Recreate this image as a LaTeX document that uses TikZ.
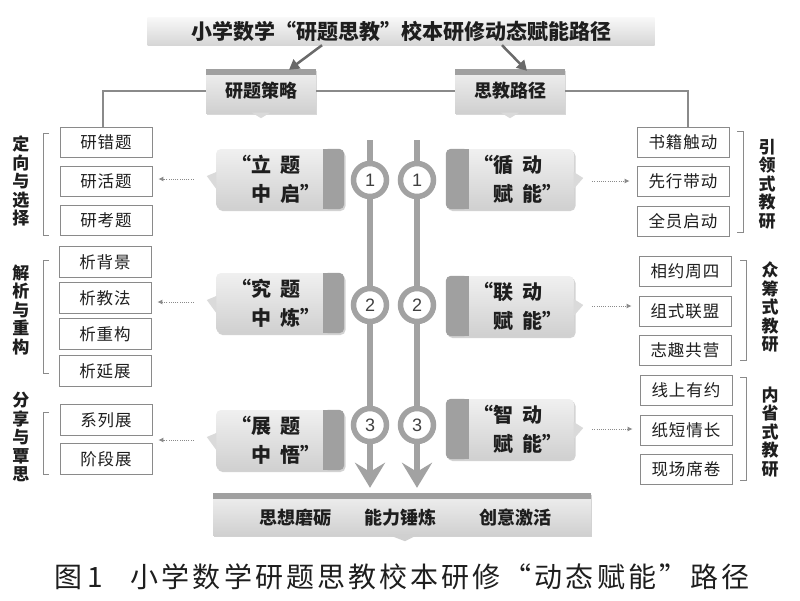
\documentclass[tikz,border=0pt]{standalone}
\usepackage{fontspec}
\setmainfont{Noto Sans CJK SC}
\newfontfamily\numfont{Liberation Sans}
\newfontfamily\capfont{Noto Sans CJK SC}[LetterSpace=11]
\newfontfamily\itemfont{Noto Sans CJK SC}[LetterSpace=6]
\usetikzlibrary{arrows.meta,shadows,calc}
\definecolor{txt}{HTML}{1E1E1E}
\definecolor{linec}{HTML}{8A8A8A}
\definecolor{stripc}{HTML}{A0A0A0}
\definecolor{pipec}{HTML}{A2A2A2}
\definecolor{boxlt}{HTML}{F0F0F0}
\definecolor{boxdk}{HTML}{D0D0D0}
\definecolor{boxmid}{HTML}{DADADA}
\definecolor{arrowc}{HTML}{6A6A6A}
\tikzset{
  titlebar/.style={top color=gray!5, bottom color=gray!32, minimum width=507pt, minimum height=28pt, inner sep=0pt, text=txt, font=\fontsize{21}{21}\selectfont\bfseries},
  header/.style={top color=boxlt, bottom color=boxdk, minimum width=110pt, minimum height=44pt, inner sep=0pt, text=txt, font=\fontsize{18}{18}\selectfont\bfseries, drop shadow={opacity=0.3, shadow xshift=1pt, shadow yshift=-1.5pt}},
  itembox/.style={draw=linec, line width=0.8pt, fill=white, minimum width=92pt, minimum height=30pt, inner sep=0pt, text=txt, font=\fontsize{16.5}{16.5}\itemfont},
  vlabel/.style={align=center, inner sep=0pt, text=txt, font=\fontsize{17}{18.5}\selectfont\bfseries},
  callout/.style={rounded corners=5pt, top color=boxlt, bottom color=boxdk, minimum width=128pt, minimum height=60pt, inner sep=0pt, drop shadow={opacity=0.35, shadow xshift=1.5pt, shadow yshift=-2pt}},
  callouttext/.style={align=center, inner sep=0pt, text=txt, font=\fontsize{20}{29}\selectfont\bfseries},
  branch/.style={draw=linec, line width=1.2pt},
  bracketline/.style={draw=linec, line width=1pt},
  titlearrow/.style={draw=arrowc, line width=2.5pt, -{Triangle[length=10pt,width=11pt]}},
  dotarrow/.style={draw=linec, line width=0.9pt, dash pattern=on 1pt off 1.2pt, -{Latex[length=5pt,width=5pt]}},
  pipe/.style={draw=pipec, line width=6.5pt, -{Stealth[length=25pt,width=30pt,inset=9pt]}},
  numcirc/.style={circle, draw=pipec, line width=5.5pt, fill=white, minimum size=33pt, inner sep=0pt, text=txt!85, font=\fontsize{18}{18}\numfont},
  bottombar/.style={top color=boxlt, bottom color=boxdk, minimum width=378pt, minimum height=42pt, inner sep=0pt, drop shadow={opacity=0.35, shadow xshift=1pt, shadow yshift=-2pt}},
  bartext/.style={inner sep=0pt, text=txt, font=\fontsize{18}{18}\selectfont\bfseries},
  caption/.style={inner sep=0pt, text=txt, font=\fontsize{28}{28}\capfont}
}
\begin{document}
\begin{tikzpicture}[x=1pt,y=-1pt]
\useasboundingbox (0,0) rectangle (800,600);
\fill[white] (0,0) rectangle (800,600);

% ---------- title ----------
\node[titlebar] (title) at (401,31) {小学数学“研题思教”校本研修动态赋能路径};

% ---------- headers ----------
\node[header] (h1) at (261,91) {研题策略};
\node[header] (h2) at (510,91) {思教路径};
\foreach \h in {h1,h2}{
  \fill[stripc] (\h.north west) rectangle ($(\h.north east)+(0,6)$);
  \fill[boxmid] ($(\h.south)+(-9,-0.5)$) -- ($(\h.south)+(0,5)$) -- ($(\h.south)+(9,-0.5)$) -- cycle;
}
\draw[titlearrow] ($(title.south)+(-79,0)$) -- ($(h1.north)+(28,1)$);
\draw[titlearrow] ($(title.south)+(101,0)$) -- ($(h2.north)+(17,2)$);

% ---------- left item boxes ----------
\node[itembox] (lb1) at (106,142) {研错题};
\node[itembox] (lb2) at (106,181) {研活题};
\node[itembox] (lb3) at (106,220) {研考题};
\node[itembox, minimum height=31pt] (lb4) at (105,262) {析背景};
\node[itembox, minimum height=31pt] (lb5) at (105,298) {析教法};
\node[itembox, minimum height=31pt] (lb6) at (105,334) {析重构};
\node[itembox, minimum height=31pt] (lb7) at (105,371) {析延展};
\node[itembox, minimum height=31pt] (lb8) at (106,420) {系列展};
\node[itembox, minimum height=31pt] (lb9) at (106,459) {阶段展};

% ---------- right item boxes ----------
\node[itembox] (rb1) at (683,142) {书籍触动};
\node[itembox] (rb2) at (683,181) {先行带动};
\node[itembox] (rb3) at (683,221) {全员启动};
\node[itembox] (rb4) at (685,271) {相约周四};
\node[itembox] (rb5) at (685,311) {组式联盟};
\node[itembox] (rb6) at (685,350) {志趣共营};
\node[itembox] (rb7) at (686,390) {线上有约};
\node[itembox] (rb8) at (686,430) {纸短情长};
\node[itembox] (rb9) at (686,469) {现场席卷};

% ---------- branch lines ----------
\draw[branch] ([xshift=-3pt]lb1.north) |- (h1.west);
\draw[branch] (h1.east) -- (h2.west);
\draw[branch] (h2.east) -| ([xshift=5pt]rb1.north);

% ---------- brackets ----------
\draw[bracketline] (49,133) -- (43,133) -- (43,235) -- (49,235);
\draw[bracketline] (49,260) -- (43,260) -- (43,373) -- (49,373);
\draw[bracketline] (49,412) -- (43,412) -- (43,474) -- (49,474);
\draw[bracketline] (737,131) -- (743,131) -- (743,232) -- (737,232);
\draw[bracketline] (740,260) -- (746,260) -- (746,360) -- (740,360);
\draw[bracketline] (740,377) -- (746,377) -- (746,480) -- (740,480);

% ---------- vertical labels ----------
\node[vlabel] (lab1) at (21,181) {定\\向\\与\\选\\择};
\node[vlabel] (lab2) at (21,310) {解\\析\\与\\重\\构};
\node[vlabel] (lab3) at (21,437) {分\\享\\与\\覃\\思};
\node[vlabel] (lab4) at (767,184) {引\\领\\式\\教\\研};
\node[vlabel] (lab5) at (770,307) {众\\筹\\式\\教\\研};
\node[vlabel] (lab6) at (770,432) {内\\省\\式\\教\\研};

% ---------- bottom bar ----------
\node[bottombar] (bar) at (402,514) {};
\fill[stripc] (bar.north west) rectangle ($(bar.north east)+(0,6)$);
\fill[boxdk] ($(bar.south)+(-14,-0.5)$) -- ($(bar.south)+(3,6)$) -- ($(bar.south)+(16,-0.5)$) -- cycle;
\node[bartext] (bt1) at (295,518) {思想磨砺};
\node[bartext] (bt2) at (400,518) {能力锤炼};
\node[bartext] (bt3) at (515,518) {创意激活};

% ---------- pipes ----------
\coordinate (pLtop) at (370,140);
\coordinate (pRtop) at (417,140);
\draw[pipe, shorten >=5pt] (pLtop) -- (pLtop |- bar.north);
\draw[pipe, shorten >=5pt] (pRtop) -- (pRtop |- bar.north);
\node[numcirc] (nL1) at (370,180) {1};
\node[numcirc] (nR1) at (417,180) {1};
\node[numcirc] (nL2) at (370,305) {2};
\node[numcirc] (nR2) at (417,305) {2};
\node[numcirc] (nL3) at (370,425) {3};
\node[numcirc] (nR3) at (417,425) {3};

% ---------- left callouts ----------
\foreach \n/\y in {cL1/179,cL2/303,cL3/440}{
  \node[callout] (\n) at (280,\y) {};
  \fill[stripc, rounded corners=5pt] ($(\n.north east)+(-21,0)$) rectangle (\n.south east);
  \fill[stripc] ($(\n.north east)+(-21,0)$) rectangle ($(\n.south east)+(-10,0)$);
  \fill[boxmid] ($(\n.west)+(0.5,-7)$) -- ($(\n.west)+(-9,-3)$) -- ($(\n.west)+(0.5,10)$) -- cycle;
}
\node[callouttext] (tL1) at (276,179) {\llap{“}立\hspace{0.45em}题\\中\hspace{0.45em}启\rlap{”}};
\node[callouttext] (tL2) at (276,303) {\llap{“}究\hspace{0.45em}题\\中\hspace{0.45em}炼\rlap{”}};
\node[callouttext] (tL3) at (276,440) {\llap{“}展\hspace{0.45em}题\\中\hspace{0.45em}悟\rlap{”}};

% ---------- right callouts ----------
\foreach \n/\y in {cR1/179,cR2/306,cR3/429}{
  \node[callout] (\n) at (510,\y) {};
  \fill[stripc, rounded corners=5pt] (\n.north west) rectangle ($(\n.south west)+(23,0)$);
  \fill[stripc] ($(\n.north west)+(10,0)$) rectangle ($(\n.south west)+(23,0)$);
  \fill[boxmid] ($(\n.east)+(-0.5,-7)$) -- ($(\n.east)+(9,-1)$) -- ($(\n.east)+(-0.5,10)$) -- cycle;
}
\node[callouttext] (tR1) at (518,179) {\llap{“}循\hspace{0.45em}动\\赋\hspace{0.45em}能\rlap{”}};
\node[callouttext] (tR2) at (518,306) {\llap{“}联\hspace{0.45em}动\\赋\hspace{0.45em}能\rlap{”}};
\node[callouttext] (tR3) at (518,429) {\llap{“}智\hspace{0.45em}动\\赋\hspace{0.45em}能\rlap{”}};

% ---------- dotted arrows ----------
\draw[dotarrow, shorten >=6pt] ([xshift=-22pt]cL1.west) -- (cL1.west -| lb2.east);
\draw[dotarrow, shorten >=6pt] ([xshift=-22pt,yshift=1pt]cL2.west) -- ([yshift=1pt]cL2.west -| lb5.east);
\draw[dotarrow, shorten >=6pt] ([xshift=-22pt]cL3.west) -- (cL3.west -| lb9.east);
\draw[dotarrow, shorten >=7pt] ([xshift=18pt,yshift=-2pt]cR1.east) -- ([yshift=-2pt]cR1.east -| rb2.west);
\draw[dotarrow, shorten >=7pt] ([xshift=18pt]cR2.east) -- (cR2.east -| rb5.west);
\draw[dotarrow, shorten >=7pt] ([xshift=18pt]cR3.east) -- (cR3.east -| rb8.west);

% ---------- caption ----------
\node[caption] (cap) at (402,577) {图\,1\hspace{1em}小学数学研题思教校本研修“动态赋能”路径};
\end{tikzpicture}
\end{document}
